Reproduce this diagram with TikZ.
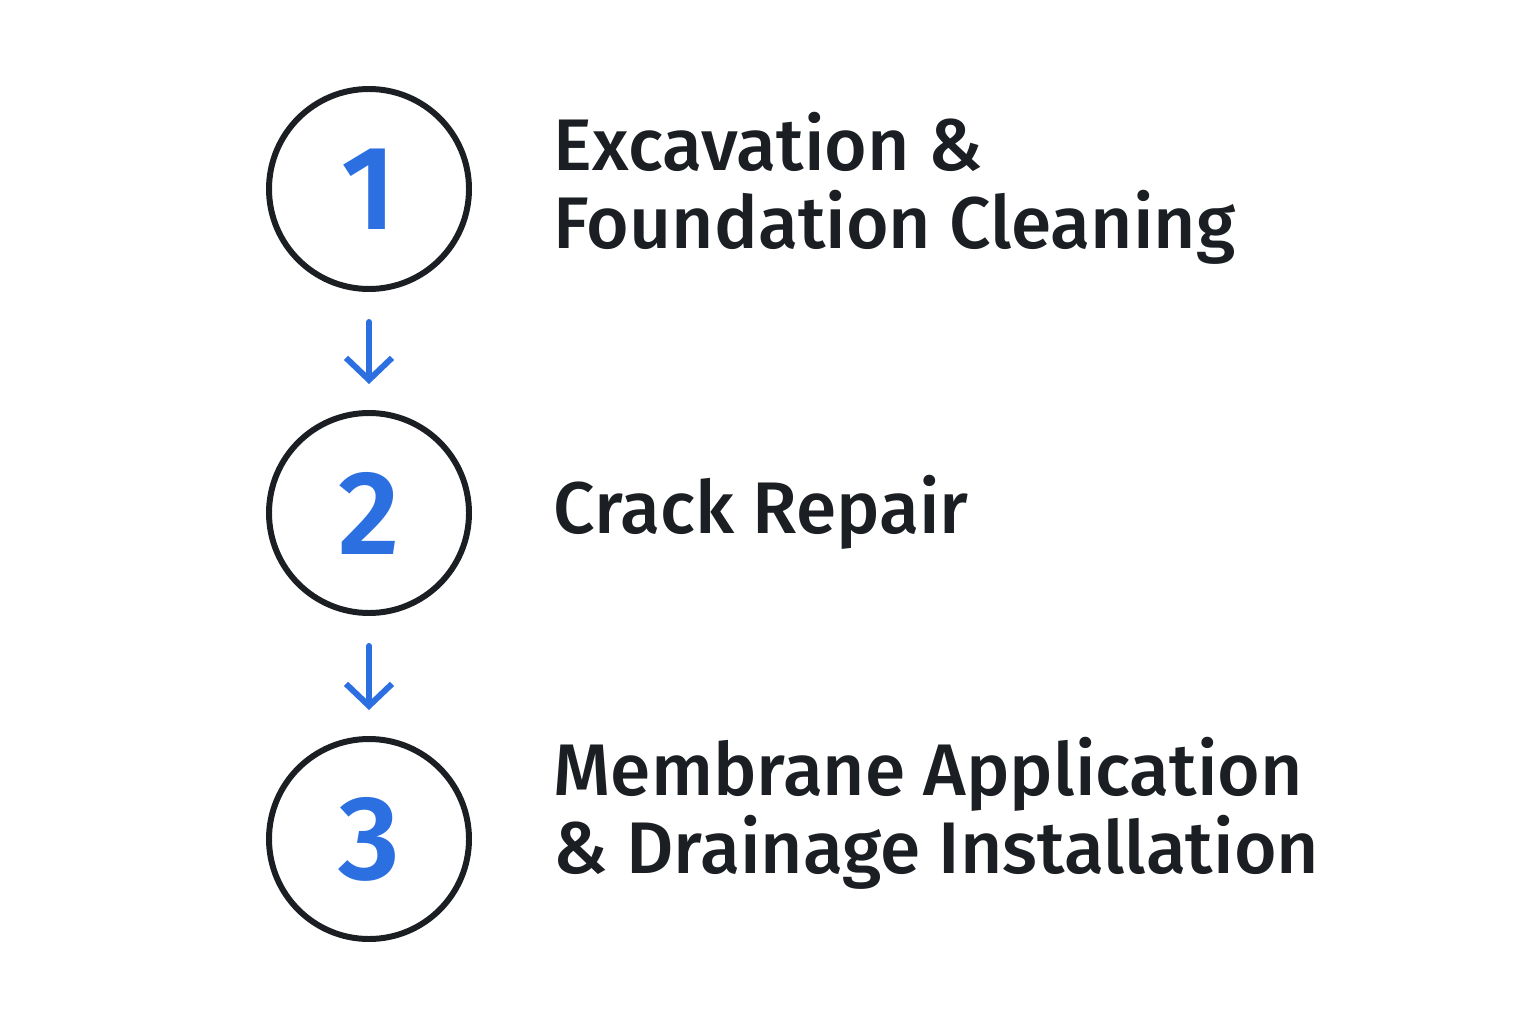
\documentclass[tikz,border=0pt]{standalone}
\usepackage{fontspec}
\setmainfont{Fira Sans}
\newfontfamily\stepfont{Fira Sans Medium}
\newfontfamily\numfont{Fira Sans SemiBold}
\usetikzlibrary{arrows.meta}
\definecolor{stepblue}{HTML}{2B6FE0}
\definecolor{inkdark}{HTML}{1B1E22}

\begin{document}
\begin{tikzpicture}[
    numcircle/.style={circle,draw=inkdark,line width=1.7pt,minimum size=2cm,inner sep=0pt,
      text=stepblue,font=\numfont\fontsize{34}{34}\selectfont},
    steptext/.style={anchor=west,align=left,inner sep=0pt,text=inkdark,
      font=\stepfont\fontsize{20.8}{22.2}\selectfont},
    flow/.style={-{Straight Barb[length=2.2mm,width=4.6mm]},stepblue,line width=1.7pt,
      line cap=round,shorten <=3mm,shorten >=2.6mm}
  ]
      \useasboundingbox (0,0) rectangle (15.36,10.24);
      \def\cx{3.69} \def\tx{5.53}
      \node[numcircle] (s1) at (\cx,8.35) {1};
      \node[numcircle] (s2) at (\cx,5.11) {2};
      \node[numcircle] (s3) at (\cx,1.85) {3};
      \node[steptext] (t1) at (\tx,8.36) {Excavation \&\\Foundation Cleaning};
      \node[steptext] (t2) at (\tx,5.12) {Crack Repair};
      \node[steptext] (t3) at (\tx,2.11) {Membrane Application\\\& Drainage Installation};
      \draw[flow] (s1) -- (s2);
      \draw[flow] (s2) -- (s3);
     \end{tikzpicture}
\end{document}
